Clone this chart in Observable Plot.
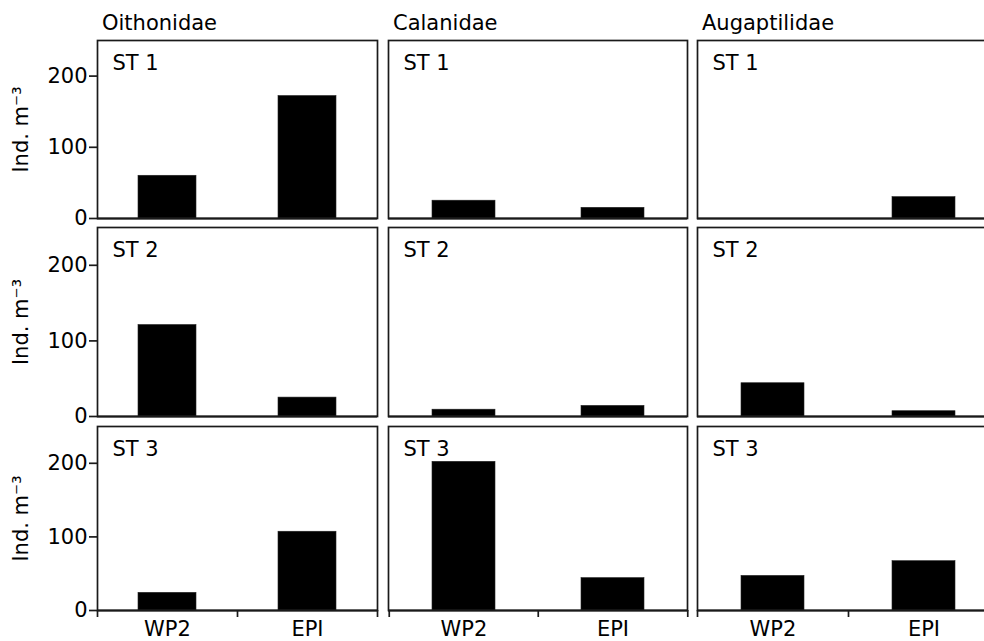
<!DOCTYPE html>
<html>
<head>
<meta charset="utf-8">
<script src="https://cdn.jsdelivr.net/npm/d3@7"></script>
<script src="https://cdn.jsdelivr.net/npm/@observablehq/plot@0.6"></script>
<style>
  html, body { margin: 0; padding: 0; background: #fff; }
  #chart { position: relative; width: 984px; height: 641px; overflow: hidden; font-family: "DejaVu Sans", sans-serif; }
  .panel { position: absolute; }
  .coltitle { position: absolute; font-size: 21px; line-height: 21px; color: #000; white-space: nowrap; }
</style>
</head>
<body>
<div id="chart"></div>
<script>
// ---- data ----
const families = ["Oithonidae", "Calanidae", "Augaptilidae"];
const stations = ["ST 1", "ST 2", "ST 3"];
const nets = ["WP2", "EPI"];
const yTicks = [0, 100, 200];
// values per station (ST 1, ST 2, ST 3), Ind. m^-3
const oithonidaeWP2 = [60, 121, 24];
const oithonidaeEPI = [172, 25, 107];
const calanidaeWP2 = [25, 9, 202];
const calanidaeEPI = [15, 14, 44];
const augaptilidaeWP2 = [0, 44, 47];
const augaptilidaeEPI = [30, 7, 67];

const valuesByFamily = {
  Oithonidae: {WP2: oithonidaeWP2, EPI: oithonidaeEPI},
  Calanidae: {WP2: calanidaeWP2, EPI: calanidaeEPI},
  Augaptilidae: {WP2: augaptilidaeWP2, EPI: augaptilidaeEPI}
};

// ---- layout (pixel frames of each panel) ----
const colX = [[97, 377], [388, 687], [697, 999]];
const rowY = [[40, 218], [227, 416], [426, 610]];
const FONT = "DejaVu Sans, sans-serif";
const FS = 21;
const INK = "#1a1a1a";

const chart = document.getElementById("chart");

families.forEach((fam, c) => {
  const t = document.createElement("div");
  t.className = "coltitle";
  t.textContent = fam;
  t.style.left = (colX[c][0] + 5) + "px";
  t.style.top = "13px";
  chart.appendChild(t);
});

stations.forEach((st, r) => {
  families.forEach((fam, c) => {
    const [x0, x1] = colX[c];
    const [y0, y1] = rowY[r];
    const W = x1 - x0, H = y1 - y0;
    const mL = c === 0 ? x0 : 3;
    const mR = 3, mT = 3;
    const mB = r === 2 ? 641 - y1 : 3;
    const band = W / nets.length;
    const inset = Math.round(band * 0.29);
    const data = nets.map(n => ({net: n, value: valuesByFamily[fam][n][r]}));

    const marks = [
      Plot.barY(data, {x: "net", y: "value", fill: "#000", stroke: "#222", strokeWidth: 0.6, insetLeft: inset, insetRight: inset}),
      Plot.frame({stroke: INK, strokeWidth: 1.7}),
      Plot.ruleY([0], {stroke: INK, strokeWidth: 2}),
      Plot.text([st], {text: d => d, frameAnchor: "top-left", textAnchor: "start", lineAnchor: "top", dx: 15, dy: 15, fontSize: FS, fill: "#000"})
    ];
    if (c === 0) {
      marks.push(Plot.axisY(yTicks, {tickSize: 8, tickPadding: 2, strokeWidth: 1.7, stroke: INK, fontSize: FS,
        label: "Ind. m⁻³", labelAnchor: "center", labelOffset: 84, labelArrow: "none"}));
    }
    if (r === 2) {
      marks.push(Plot.axisX(nets, {tickSize: 0, tickPadding: 11, fontSize: FS, label: null}));
      marks.push(Plot.axisX(nets, {tickSize: 7, tickFormat: () => "", dx: -band / 2, strokeWidth: 1.7, stroke: INK, label: null}));
      marks.push(Plot.axisX([nets[nets.length - 1]], {tickSize: 7, tickFormat: () => "", dx: band / 2, strokeWidth: 1.7, stroke: INK, label: null}));
    }

    const plot = Plot.plot({
      width: mL + W + mR,
      height: mT + H + mB,
      marginLeft: mL, marginRight: mR, marginTop: mT, marginBottom: mB,
      style: {fontFamily: FONT, fontSize: FS + "px", background: "transparent", overflow: "visible", color: "#000"},
      x: {domain: nets, padding: 0, axis: r === 2 ? undefined : null, label: null},
      y: {domain: [0, 250], axis: c === 0 ? undefined : null, label: null},
      marks
    });
    plot.classList.add("panel");
    plot.style.left = (x0 - mL) + "px";
    plot.style.top = (y0 - mT) + "px";
    chart.appendChild(plot);
  });
});
</script>
</body>
</html>
